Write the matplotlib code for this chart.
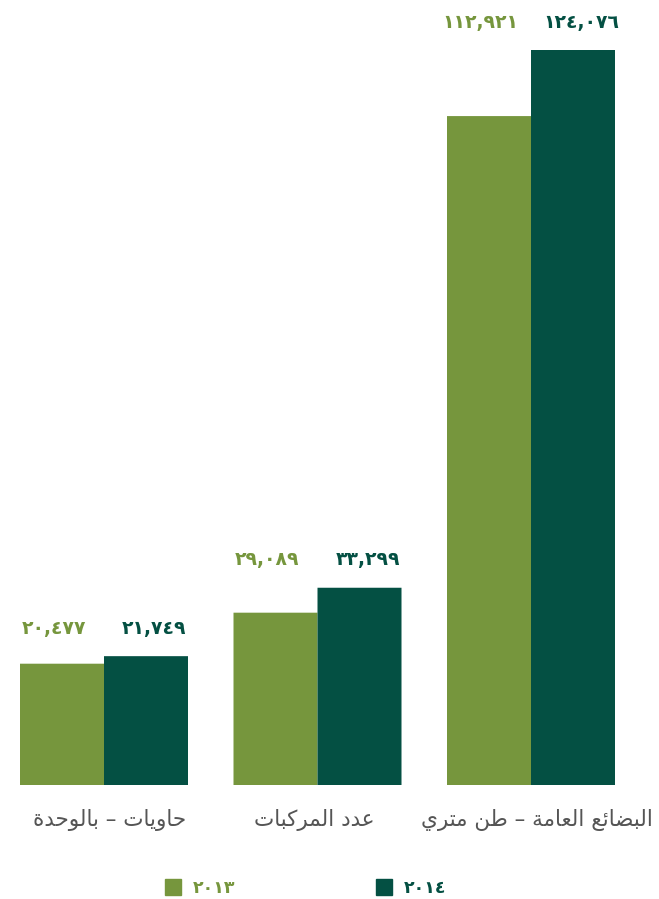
import matplotlib
matplotlib.use("Agg")
import matplotlib.pyplot as plt
from matplotlib.lines import Line2D

# ---------------- data ----------------
categories = ["حاويات – بالوحدة", "عدد المركبات", "البضائع العامة – طن متري"]
values_2013 = [20477, 29089, 112921]
values_2014 = [21749, 33299, 124076]
series_names = ["٢٠١٣", "٢٠١٤"]

COL_2013 = "#76963d"
COL_2014 = "#045043"
TXT = "#555555"

# ------------- simple Arabic shaping (presentation forms) -------------
FORMS = {  # isolated, final, initial, medial
    "ء": ("\uFE80", None, None, None),
    "آ": ("\uFE81", "\uFE82", None, None),
    "أ": ("\uFE83", "\uFE84", None, None),
    "ؤ": ("\uFE85", "\uFE86", None, None),
    "إ": ("\uFE87", "\uFE88", None, None),
    "ئ": ("\uFE89", "\uFE8A", "\uFE8B", "\uFE8C"),
    "ا": ("\uFE8D", "\uFE8E", None, None),
    "ب": ("\uFE8F", "\uFE90", "\uFE91", "\uFE92"),
    "ة": ("\uFE93", "\uFE94", None, None),
    "ت": ("\uFE95", "\uFE96", "\uFE97", "\uFE98"),
    "ث": ("\uFE99", "\uFE9A", "\uFE9B", "\uFE9C"),
    "ج": ("\uFE9D", "\uFE9E", "\uFE9F", "\uFEA0"),
    "ح": ("\uFEA1", "\uFEA2", "\uFEA3", "\uFEA4"),
    "خ": ("\uFEA5", "\uFEA6", "\uFEA7", "\uFEA8"),
    "د": ("\uFEA9", "\uFEAA", None, None),
    "ذ": ("\uFEAB", "\uFEAC", None, None),
    "ر": ("\uFEAD", "\uFEAE", None, None),
    "ز": ("\uFEAF", "\uFEB0", None, None),
    "س": ("\uFEB1", "\uFEB2", "\uFEB3", "\uFEB4"),
    "ش": ("\uFEB5", "\uFEB6", "\uFEB7", "\uFEB8"),
    "ص": ("\uFEB9", "\uFEBA", "\uFEBB", "\uFEBC"),
    "ض": ("\uFEBD", "\uFEBE", "\uFEBF", "\uFEC0"),
    "ط": ("\uFEC1", "\uFEC2", "\uFEC3", "\uFEC4"),
    "ظ": ("\uFEC5", "\uFEC6", "\uFEC7", "\uFEC8"),
    "ع": ("\uFEC9", "\uFECA", "\uFECB", "\uFECC"),
    "غ": ("\uFECD", "\uFECE", "\uFECF", "\uFED0"),
    "ف": ("\uFED1", "\uFED2", "\uFED3", "\uFED4"),
    "ق": ("\uFED5", "\uFED6", "\uFED7", "\uFED8"),
    "ك": ("\uFED9", "\uFEDA", "\uFEDB", "\uFEDC"),
    "ل": ("\uFEDD", "\uFEDE", "\uFEDF", "\uFEE0"),
    "م": ("\uFEE1", "\uFEE2", "\uFEE3", "\uFEE4"),
    "ن": ("\uFEE5", "\uFEE6", "\uFEE7", "\uFEE8"),
    "ه": ("\uFEE9", "\uFEEA", "\uFEEB", "\uFEEC"),
    "و": ("\uFEED", "\uFEEE", None, None),
    "ى": ("\uFEEF", "\uFEF0", None, None),
    "ي": ("\uFEF1", "\uFEF2", "\uFEF3", "\uFEF4"),
}


def dual(c):
    return c in FORMS and FORMS[c][2] is not None


def shape(text):
    chars = list(text)
    out = []
    for i, c in enumerate(chars):
        if c not in FORMS:
            out.append(c)
            continue
        prev = chars[i - 1] if i > 0 else ""
        nxt = chars[i + 1] if i + 1 < len(chars) else ""
        jp = dual(prev)
        jn = dual(c) and nxt in FORMS
        iso, fin, ini, med = FORMS[c]
        if jp and jn:
            out.append(med)
        elif jp:
            out.append(fin or iso)
        elif jn:
            out.append(ini)
        else:
            out.append(iso)
    return "".join(out)[::-1]


def arabic_digits(n):
    s = f"{n:,}"
    return s.translate(str.maketrans("0123456789", "٠١٢٣٤٥٦٧٨٩"))


# ---------------- figure ----------------
W, H = 659, 899
fig = plt.figure(figsize=(W / 100, H / 100), dpi=100)
ax = fig.add_axes([0, (H - 785) / H, 1, 785 / H])

spacing = 213.5
x0 = 104
xs = list(range(len(categories)))
bw = 84 / spacing

b1 = ax.bar([x - bw / 2 for x in xs], values_2013, width=bw, color=COL_2013,
            linewidth=0, snap=False)
b2 = ax.bar([x + bw / 2 for x in xs], values_2014, width=bw, color=COL_2014,
            linewidth=0, snap=False)

ax.set_xlim(-x0 / spacing, (W - x0) / spacing)
ax.set_ylim(0, max(values_2014) * 785 / 735)
ax.axis("off")

# value labels: both labels of a group sit at the same height above the taller bar
for i in xs:
    top = max(values_2013[i], values_2014[i])
    for r, v, col, dx in ((b1[i], values_2013[i], COL_2013, -6),
                          (b2[i], values_2014[i], COL_2014, 6)):
        ax.annotate(arabic_digits(v), (r.get_x() + r.get_width() / 2, top),
                    xytext=(dx, 20), textcoords="offset points",
                    ha="center", va="center", fontsize=13.5, fontweight="bold",
                    color=col, family="DejaVu Sans")

label_dx = [4, -2, 4]
for x, cat, dx in zip(xs, categories, label_dx):
    ax.annotate(shape(cat), (x, 0), xytext=(dx, -25), textcoords="offset points",
                ha="center", va="center", fontsize=15.5, color=TXT,
                family="DejaVu Sans", annotation_clip=False)

handles = [Line2D([], [], marker="s", linestyle="none", markersize=11.5, color=COL_2013),
           Line2D([], [], marker="s", linestyle="none", markersize=11.5, color=COL_2014)]
leg = fig.legend(handles, series_names, loc="center", bbox_to_anchor=(306 / W, 1 - 888 / H),
                 ncol=2, frameon=False, handlelength=0.9, handletextpad=0.7,
                 columnspacing=8.1, prop={"weight": "bold", "size": 12.5})
for t, c in zip(leg.get_texts(), (COL_2013, COL_2014)):
    t.set_color(c)

fig.savefig("out.png", dpi=100)
